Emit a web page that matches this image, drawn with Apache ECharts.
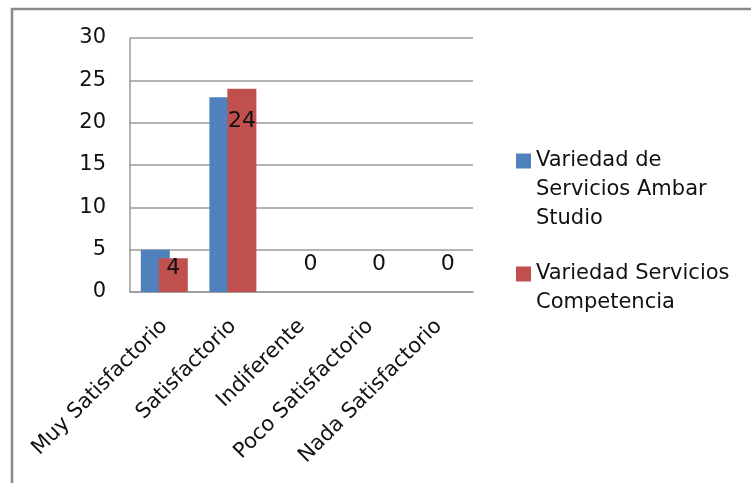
<!DOCTYPE html>
<html>
<head>
<meta charset="utf-8">
<script src="https://cdn.jsdelivr.net/npm/echarts@6/dist/echarts.min.js"></script>
<style>
html,body{margin:0;padding:0;background:#fff;}
#c{width:751px;height:483px;}
</style>
</head>
<body>
<div id="c"></div>
<script>
var categories = ['Muy Satisfactorio', 'Satisfactorio', 'Indiferente', 'Poco Satisfactorio', 'Nada Satisfactorio'];
var seriesNames = ['Variedad de Servicios Ambar Studio', 'Variedad Servicios Competencia'];
var ambarValues = [5, 23, 0, 0, 0];
var competenciaValues = [4, 24, 0, 0, 0];
var legendLines = [['Variedad de', 'Servicios Ambar', 'Studio'], ['Variedad Servicios', 'Competencia']];
var yTicks = [0, 5, 10, 15, 20, 25, 30];

// label placement (style, not data)
var labelShift = [-1, 21, -39, -39, -39];

var FONT = 'DejaVu Sans';
var chart = echarts.init(document.getElementById('c'), null, {renderer: 'canvas'});

var compData = competenciaValues.map(function (v, i) {
  return {value: v, label: {offset: [0, labelShift[i]]}};
});

function legendFor(idx, iconCenter, lines) {
  var lh = 29;
  var pad = [];
  for (var k = 0; k < lines.length - 1; k++) pad.push('');
  var txt = pad.concat(lines).join('\n');
  var total = (2 * lines.length - 1) * lh;
  return {
    show: true,
    left: 516,
    top: iconCenter - total / 2,
    padding: 0,
    orient: 'vertical',
    icon: 'rect',
    itemWidth: 15,
    itemHeight: 15,
    itemGap: 0,
    data: [seriesNames[idx]],
    formatter: function () { return txt; },
    textStyle: {
      fontFamily: FONT,
      fontSize: 21,
      color: '#111111',
      lineHeight: lh
    }
  };
}

var option = {
  animation: false,
  backgroundColor: '#ffffff',
  graphic: [{
    type: 'polyline',
    shape: {points: [[12, 2000], [12, 9], [2000, 9]]},
    style: {fill: 'none', stroke: '#8a8a8a', lineWidth: 2.5},
    silent: true
  }],
  legend: [
    legendFor(0, 161, legendLines[0]),
    legendFor(1, 274, legendLines[1])
  ],
  grid: {left: 130, top: 38, width: 343, height: 254, containLabel: false},
  xAxis: {
    type: 'category',
    data: categories,
    axisLine: {show: true, lineStyle: {color: '#9a9a9a', width: 1.5}},
    axisTick: {show: false},
    axisLabel: {
      interval: 0,
      rotate: 45,
      margin: 31,
      fontFamily: FONT,
      fontSize: 21,
      color: '#111111'
    },
    splitLine: {show: false}
  },
  yAxis: {
    type: 'value',
    min: yTicks[0],
    max: yTicks[yTicks.length - 1],
    interval: 5,
    axisLine: {show: true, lineStyle: {color: '#9a9a9a', width: 1.5}},
    axisTick: {show: false},
    axisLabel: {
      margin: 24,
      fontFamily: FONT,
      fontSize: 21,
      color: '#111111'
    },
    splitLine: {show: true, lineStyle: {color: '#9a9a9a', width: 1.5}}
  },
  series: [
    {
      name: seriesNames[0],
      type: 'bar',
      data: ambarValues,
      barWidth: 29,
      barGap: '-38%',
      itemStyle: {color: '#4F81BD'},
      z: 2
    },
    {
      name: seriesNames[1],
      type: 'bar',
      data: compData,
      barWidth: 29,
      barGap: '-38%',
      itemStyle: {color: '#C0504D'},
      z: 3,
      label: {
        show: true,
        position: 'insideTop',
        distance: 0,
        fontFamily: FONT,
        fontSize: 22,
        color: '#111111'
      }
    }
  ]
};
chart.setOption(option);
</script>
</body>
</html>
